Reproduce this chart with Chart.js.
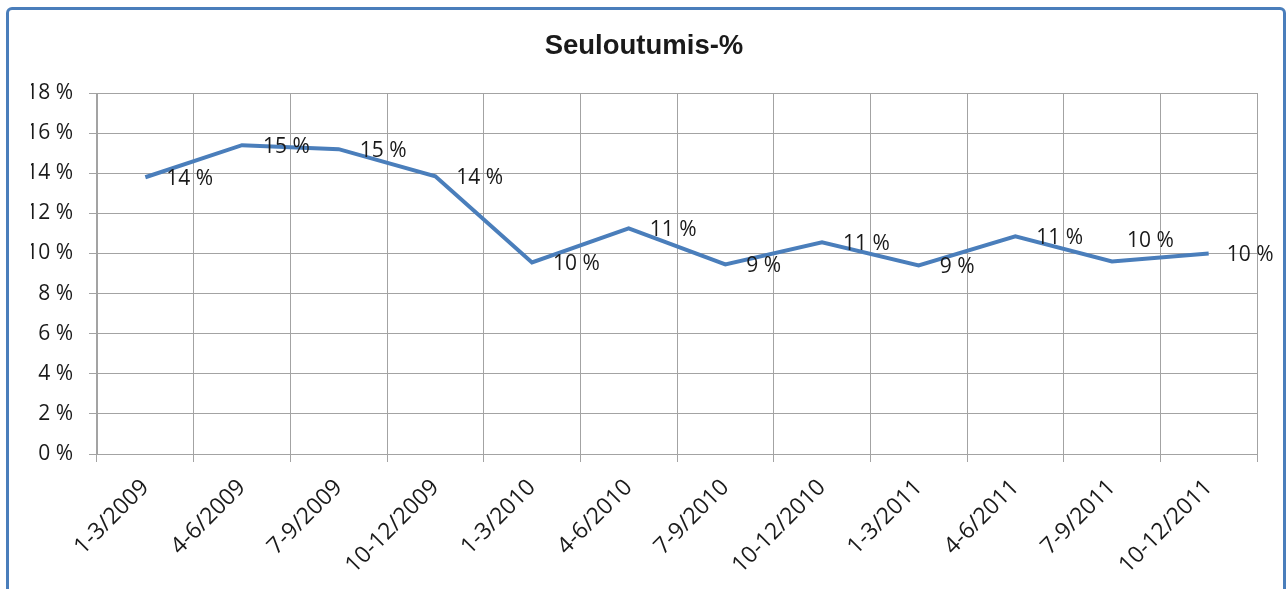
<!DOCTYPE html>
<html>
<head>
<meta charset="utf-8">
<script src="https://cdn.jsdelivr.net/npm/chart.js@4.4.1/dist/chart.umd.min.js"></script>
<style>
  html, body { margin: 0; padding: 0; background: #ffffff; overflow: hidden; }
  #wrap { position: relative; width: 1288px; height: 589px; }
  #chart { position: absolute; left: 0; top: 0; }
  #frame { position: absolute; left: 6px; top: 7px; width: 1274px; height: 620px;
           border: 3px solid #4a7ebb; border-radius: 6px; pointer-events: none; box-sizing: content-box; }
</style>
</head>
<body>
<div id="wrap">
  <canvas id="chart" width="1288" height="589"></canvas>
  <div id="frame"></div>
</div>
<script>
const titleText = 'Seuloutumis-%';
const categories = ['1-3/2009', '4-6/2009', '7-9/2009', '10-12/2009', '1-3/2010', '4-6/2010',
                    '7-9/2010', '10-12/2010', '1-3/2011', '4-6/2011', '7-9/2011', '10-12/2011'];
const values = [13.8, 15.4, 15.2, 13.85, 9.55, 11.25, 9.45, 10.55, 9.4, 10.85, 9.6, 10.0];
const valueLabels = values.map(v => Math.round(v) + ' %');
const yMin = 0;
const yMax = 18;
const yStep = 2;

const valueLabelPlugin = {
  id: 'valueLabels',
  afterDatasetsDraw(chart, args, opts) {
    const ctx = chart.ctx;
    const meta = chart.getDatasetMeta(0);
    const shifts = opts.shifts || {};
    ctx.save();
    ctx.font = '21px "Open Sans"';
    ctx.fillStyle = '#1a1a1a';
    ctx.textAlign = 'left';
    ctx.textBaseline = 'middle';
    meta.data.forEach((pt, i) => {
      const s = shifts[i] || [0, 0];
      ctx.fillText(valueLabels[i], pt.x + 21 + s[0], pt.y + 2 + s[1]);
    });
    ctx.restore();
  }
};

const bgPlugin = {
  id: 'bg',
  beforeDraw(chart) {
    const ctx = chart.ctx;
    ctx.save();
    ctx.fillStyle = '#ffffff';
    ctx.fillRect(0, 0, chart.width, chart.height);
    ctx.restore();
  }
};

new Chart(document.getElementById('chart'), {
  type: 'line',
  data: {
    labels: categories,
    datasets: [{
      data: values,
      borderColor: '#4a7ebb',
      borderWidth: 4,
      pointRadius: 0,
      tension: 0,
      fill: false
    }]
  },
  options: {
    responsive: false,
    animation: false,
    layout: { padding: { left: 31, right: 31, top: 0, bottom: 0 } },
    plugins: {
      legend: { display: false },
      tooltip: { enabled: false },
      valueLabels: { shifts: { 10: [-6, -22], 11: [-3, 0] } },
      title: {
        display: true,
        text: titleText,
        color: '#1a1a1a',
        font: { family: '"Liberation Sans", Arial, sans-serif', size: 27.5, weight: 'bold', lineHeight: 1.2 },
        padding: { top: 30, bottom: 30 }
      }
    },
    scales: {
      x: {
        offset: true,
        grid: { offset: true, color: '#a3a3a3', lineWidth: 1, tickLength: 8, drawTicks: true },
        border: { color: '#a3a3a3' },
        ticks: {
          minRotation: 45, maxRotation: 45, autoSkip: false, padding: 12,
          color: '#1a1a1a',
          font: { family: '"Open Sans", sans-serif', size: 23 }
        },
        afterFit(scale) { scale.height = 135; }
      },
      y: {
        min: yMin, max: yMax,
        grid: { color: '#a3a3a3', lineWidth: 1, tickLength: 8 },
        border: { color: '#a3a3a3' },
        ticks: {
          stepSize: yStep, padding: 16,
          color: '#1a1a1a',
          font: { family: '"Open Sans", sans-serif', size: 21 },
          callback: v => v + ' %'
        },
        afterFit(scale) { scale.width = 66; }
      }
    }
  },
  plugins: [bgPlugin, valueLabelPlugin]
});
</script>
</body>
</html>
